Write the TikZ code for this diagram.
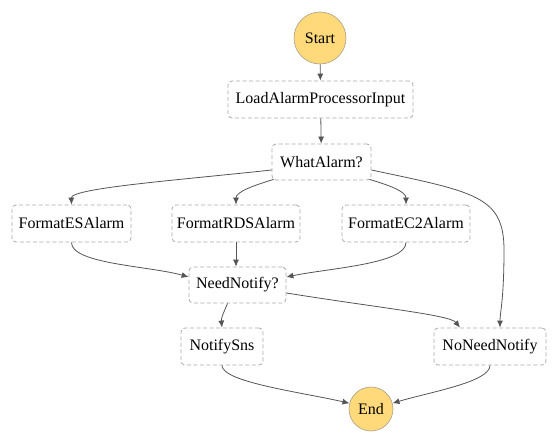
\documentclass[tikz,border=0pt]{standalone}
\usepackage{fontspec}
\setmainfont{Liberation Serif}
\usetikzlibrary{arrows.meta,calc}
\definecolor{boxline}{HTML}{AAAAAA}
\definecolor{edgec}{HTML}{555555}
\definecolor{termfill}{HTML}{FFD97A}
\definecolor{termline}{HTML}{A8A08A}
\begin{document}
\begin{tikzpicture}[x=1pt,y=-1pt,
  font=\fontsize{16}{19}\selectfont,
  stepbox/.style={draw=boxline, line width=0.8pt, dash pattern=on 4pt off 2.5pt, rounded corners=4pt, minimum height=37pt, inner xsep=4pt, fill=white},
  term/.style={circle, draw=termline, line width=0.6pt, fill=termfill, inner sep=0pt},
  flow/.style={draw=edgec, line width=0.8pt, -{Latex[length=7pt,width=6pt]}}]
\useasboundingbox (0,0) rectangle (558,444);
\node[term, minimum size=52pt] (start) at (320,38) {Start};
\node[stepbox, minimum width=185pt] (load) at (320.5,99.5) {LoadAlarmProcessorInput};
\node[stepbox, minimum width=99pt, minimum height=36pt] (what) at (321.5,162) {WhatAlarm?};
\node[stepbox, minimum width=119pt] (es) at (71.5,223.5) {FormatESAlarm};
\node[stepbox, minimum width=128pt] (rds) at (236,223.5) {FormatRDSAlarm};
\node[stepbox, minimum width=128pt] (ec2) at (406,223.5) {FormatEC2Alarm};
\node[stepbox, minimum width=97pt, minimum height=36pt] (need) at (237.5,285) {NeedNotify?};
\node[stepbox, minimum width=82pt] (notify) at (222,346.5) {NotifySns};
\node[stepbox, minimum width=112pt] (nonn) at (490,346.5) {NoNeedNotify};
\node[term, minimum size=44pt] (end) at (371,409) {End};

\draw[flow] (start) -- (load);
\draw[flow] (load) -- (what);
\draw[flow] ($(what.west)+(0,8)$) .. controls (180,180) and (71,188) .. (es.north);
\draw[flow] ($(what.south west)+(2,-1)$) .. controls (252,186) and (236,192) .. (rds.north);
\draw[flow] ($(what.south east)+(-2,-1)$) .. controls (392,186) and (406,192) .. (ec2.north);
\draw[flow] ($(what.east)+(0,8)$) .. controls (475,192) and (504,196) .. (504,250)
  .. controls (504,300) and (500,312) .. ($(nonn.north)+(10,0)$);
\draw[flow] (es.south) .. controls (71,264) and (150,266) .. ($(need.west)+(0,-8)$);
\draw[flow] (rds.south) -- (rds.south |- need.north);
\draw[flow] (ec2.south) .. controls (406,264) and (330,268) .. ($(need.east)+(0,-8)$);
\draw[flow] ($(need.south)+(-10,0)$) .. controls (224,312) and (221,318) .. (notify.north);
\draw[flow] ($(need.east)+(0,8)$) .. controls (380,308) and (450,315) .. ($(nonn.north)+(-30,0)$);
\draw[flow] (notify.south) .. controls (222,382) and (300,392) .. (end.165);
\draw[flow] (nonn.south) .. controls (490,382) and (430,392) .. (end.15);
\end{tikzpicture}
\end{document}
